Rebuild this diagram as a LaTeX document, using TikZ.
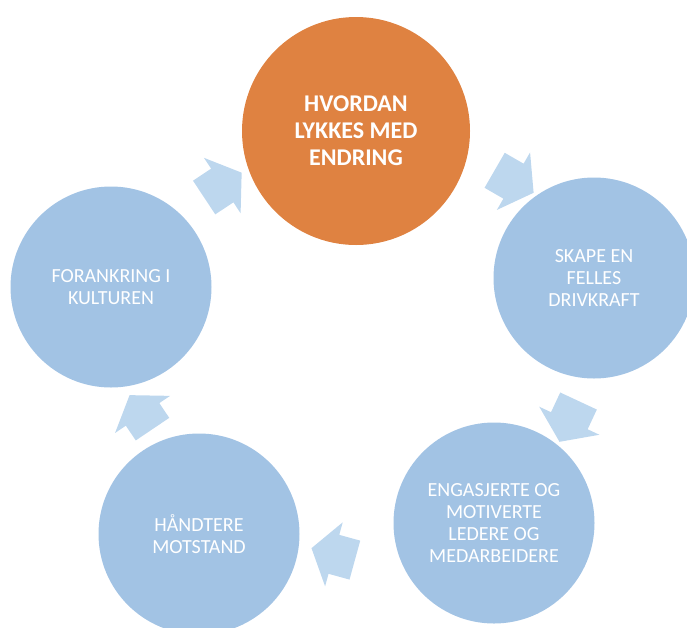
\documentclass[tikz,border=0pt]{standalone}
\usepackage{fontspec}
\setmainfont{Carlito}
\usetikzlibrary{shapes.arrows}
\definecolor{oransje}{HTML}{DF8241}
\definecolor{sirkelblaa}{HTML}{A2C3E4}
\definecolor{pilblaa}{HTML}{BDD7EE}
\begin{document}
\begin{tikzpicture}[
		x=1pt, y=-1pt,
		sirkel/.style={circle, fill=sirkelblaa, minimum size=201pt, inner sep=0pt, text=white, align=center, font=\fontsize{20pt}{22pt}\selectfont},
		pil/.style={single arrow, fill=pilblaa, minimum height=45pt, inner xsep=0pt, inner ysep=20pt, single arrow head extend=13pt, single arrow tip angle=110}
		]
		\useasboundingbox (0,0) rectangle (687,627);
		\clip (0,0) rectangle (687,627);
		
		% Piler mellom sirklene
		\node [pil, rotate=33.5] (pil1) at (217,189) {};
		\node [pil, rotate=-30] (pil2) at (508,178) {};
		\node [pil, rotate=-115] (pil3) at (572,415) {};
		\node [pil, rotate=164.6] (pil4) at (340,556) {};
		\node [pil, rotate=124, minimum height=41pt] (pil5) at (145,418) {};
		
		% Sirkler med tekst
		\node [sirkel, fill=oransje, minimum size=228pt, font=\fontsize{24pt}{27pt}\selectfont\bfseries] (endring) at (356,131) {HVORDAN\\LYKKES MED\\ENDRING};
		\node [sirkel] (drivkraft) at (594,278) {SKAPE EN\\FELLES\\DRIVKRAFT};
		\node [sirkel] (engasjerte) at (494,523) {ENGASJERTE OG\\MOTIVERTE\\LEDERE OG\\MEDARBEIDERE};
		\node [sirkel] (motstand) at (199,534) {HÅNDTERE\\MOTSTAND};
		\node [sirkel] (forankring) at (111,287) {FORANKRING I\\KULTUREN};
		
	\end{tikzpicture}
\end{document}
